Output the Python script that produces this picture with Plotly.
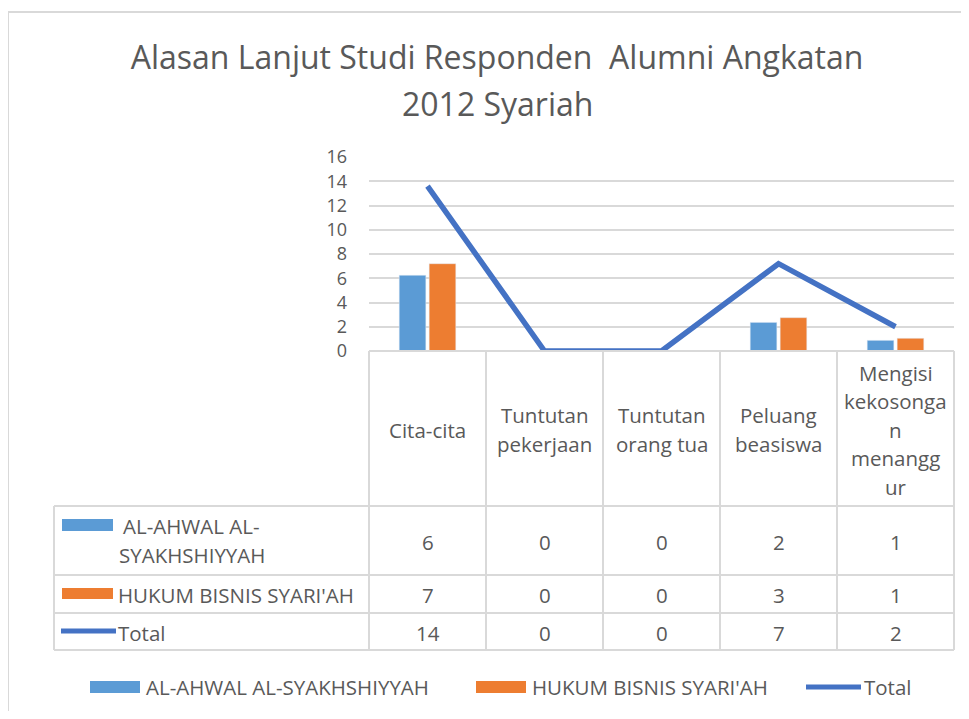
import plotly.graph_objects as go

# ---------------- data ----------------
categories = ["Cita-cita", "Tuntutan pekerjaan", "Tuntutan orang tua", "Peluang beasiswa",
              "Mengisi kekosongan menganggur"]
category_lines = [["Cita-cita"], ["Tuntutan", "pekerjaan"], ["Tuntutan", "orang tua"],
                  ["Peluang", "beasiswa"], ["Mengisi", "kekosonga", "n", "menangg", "ur"]]
series_names = ["AL-AHWAL AL-SYAKHSHIYYAH", "HUKUM BISNIS SYARI'AH", "Total"]
al_ahwal = [6.25, 0, 0, 2.36, 0.88]
hukum_bisnis = [7.2, 0, 0, 2.75, 1.05]
total = [13.6, 0, 0, 7.2, 2.0]
y_ticks = [0, 2, 4, 6, 8, 10, 12, 14, 16]
title_line1 = "Alasan Lanjut Studi Responden  Alumni Angkatan"
title_line2 = "2012 Syariah"

# ---------------- styles / geometry ----------------
BLUE = "#5B9BD5"
ORANGE = "#ED7D31"
LINE = "#4472C4"
TXT = "#595959"
GRID = "#D9D9D9"
FONT = "Open Sans"
OFF = 8                      # page body margin
FW, FH = 953, 703
L, R_EDGE, TOP, BOTTOM = 369, 954, 157, 351   # positions in window pixels
W = R_EDGE - L
H = BOTTOM - TOP


def px_x(px):
    return (px - L) / W


def px_y(py):
    return (BOTTOM - py) / H


fig = go.Figure()
fig.add_trace(go.Bar(x=categories, y=al_ahwal, name=series_names[0], marker_color=BLUE,
                     showlegend=False))
fig.add_trace(go.Bar(x=categories, y=hukum_bisnis, name=series_names[1], marker_color=ORANGE,
                     showlegend=False))
fig.add_trace(go.Scatter(x=categories, y=total, name=series_names[2], mode="lines",
                         line=dict(color=LINE, width=5.5), showlegend=False, cliponaxis=False))

shapes = []
annotations = []

# chart outer border
shapes.append(dict(type="rect", xref="paper", yref="paper", x0=px_x(8), x1=px_x(1000),
                   y0=px_y(760), y1=px_y(12), line=dict(color="#D9D9D9", width=2),
                   fillcolor="rgba(0,0,0,0)", layer="below"))

# table geometry
header_bottom = 506
row_bounds = [506, 575, 613, 650]
table_left = 54
line_style = dict(color=GRID, width=2)

shapes.append(dict(type="line", xref="paper", yref="paper", x0=0, x1=1,
                   y0=px_y(BOTTOM), y1=px_y(BOTTOM), line=line_style))
for yb in row_bounds:
    shapes.append(dict(type="line", xref="paper", yref="paper", x0=px_x(table_left), x1=1,
                       y0=px_y(yb), y1=px_y(yb), line=line_style))
n = len(categories)
for i in range(n + 1):
    shapes.append(dict(type="line", xref="paper", yref="paper", x0=i / n, x1=i / n,
                       y0=px_y(BOTTOM), y1=px_y(row_bounds[-1]), line=line_style))
shapes.append(dict(type="line", xref="paper", yref="paper", x0=px_x(table_left), x1=px_x(table_left),
                   y0=px_y(row_bounds[0]), y1=px_y(row_bounds[-1]), line=line_style))

FS = 20.5
LS = 28.5

header_center = (BOTTOM + header_bottom) / 2 + 1
for i, lines in enumerate(category_lines):
    k = len(lines)
    for j, t in enumerate(lines):
        yc = header_center + (j - (k - 1) / 2) * LS
        annotations.append(dict(x=categories[i], xref="x", y=px_y(yc), yref="paper", text=t,
                                showarrow=False, xanchor="center", yanchor="middle",
                                font=dict(family=FONT, size=FS, color=TXT)))

values = [al_ahwal, hukum_bisnis, total]
row_centers = [(row_bounds[r] + row_bounds[r + 1]) / 2 + 1 for r in range(3)]
for r, vals in enumerate(values):
    for i, v in enumerate(vals):
        annotations.append(dict(x=categories[i], xref="x", y=px_y(row_centers[r]), yref="paper",
                                text=f"{v:.0f}", showarrow=False, xanchor="center", yanchor="middle",
                                font=dict(family=FONT, size=FS, color=TXT)))

# row header legend keys & labels
shapes.append(dict(type="rect", xref="paper", yref="paper", x0=px_x(62), x1=px_x(113),
                   y0=px_y(531), y1=px_y(519), fillcolor=BLUE, line=dict(width=0)))
annotations.append(dict(x=px_x(121), xref="paper", y=px_y(526), yref="paper", text="AL-AHWAL AL-",
                        showarrow=False, xanchor="left", yanchor="middle",
                        font=dict(family=FONT, size=FS, color=TXT)))
annotations.append(dict(x=px_x(117), xref="paper", y=px_y(555), yref="paper", text="SYAKHSHIYYAH",
                        showarrow=False, xanchor="left", yanchor="middle",
                        font=dict(family=FONT, size=FS, color=TXT)))
shapes.append(dict(type="rect", xref="paper", yref="paper", x0=px_x(62), x1=px_x(113),
                   y0=px_y(599), y1=px_y(588), fillcolor=ORANGE, line=dict(width=0)))
annotations.append(dict(x=px_x(116), xref="paper", y=px_y(row_centers[1]), yref="paper",
                        text=series_names[1], showarrow=False, xanchor="left", yanchor="middle",
                        font=dict(family=FONT, size=FS, color=TXT)))
shapes.append(dict(type="line", xref="paper", yref="paper", x0=px_x(61), x1=px_x(116),
                   y0=px_y(631), y1=px_y(631), line=dict(color=LINE, width=5)))
annotations.append(dict(x=px_x(116), xref="paper", y=px_y(row_centers[2]), yref="paper",
                        text=series_names[2], showarrow=False, xanchor="left", yanchor="middle",
                        font=dict(family=FONT, size=FS, color=TXT)))

# bottom legend
LY = 687
shapes.append(dict(type="rect", xref="paper", yref="paper", x0=px_x(90), x1=px_x(140),
                   y0=px_y(LY + 6), y1=px_y(LY - 6), fillcolor=BLUE, line=dict(width=0)))
annotations.append(dict(x=px_x(144), xref="paper", y=px_y(LY), yref="paper", text=series_names[0],
                        showarrow=False, xanchor="left", yanchor="middle",
                        font=dict(family=FONT, size=FS, color=TXT)))
shapes.append(dict(type="rect", xref="paper", yref="paper", x0=px_x(476), x1=px_x(526),
                   y0=px_y(LY + 6), y1=px_y(LY - 6), fillcolor=ORANGE, line=dict(width=0)))
annotations.append(dict(x=px_x(530), xref="paper", y=px_y(LY), yref="paper", text=series_names[1],
                        showarrow=False, xanchor="left", yanchor="middle",
                        font=dict(family=FONT, size=FS, color=TXT)))
shapes.append(dict(type="line", xref="paper", yref="paper", x0=px_x(806), x1=px_x(861),
                   y0=px_y(LY), y1=px_y(LY), line=dict(color=LINE, width=5)))
annotations.append(dict(x=px_x(862), xref="paper", y=px_y(LY), yref="paper", text=series_names[2],
                        showarrow=False, xanchor="left", yanchor="middle",
                        font=dict(family=FONT, size=FS, color=TXT)))

# title second line
TS = 32
annotations.append(dict(x=px_x(497), xref="paper", y=px_y(103), yref="paper", text=title_line2,
                        showarrow=False, xanchor="center", yanchor="middle",
                        font=dict(family=FONT, size=TS, color=TXT)))

fig.update_layout(
    width=FW, height=FH,
    margin=dict(l=L - OFF, r=FW - (R_EDGE - OFF), t=TOP - OFF, b=FH - (BOTTOM - OFF), pad=0),
    paper_bgcolor="white", plot_bgcolor="white",
    title=dict(text=title_line1, x=(497 - OFF) / FW, xanchor="center", xref="container",
               y=1 - (58 - OFF) / FH, yanchor="middle", font=dict(family=FONT, size=TS, color=TXT)),
    barmode="group", bargap=0.488, bargroupgap=0.11,
    showlegend=False,
    font=dict(family=FONT, color=TXT),
    xaxis=dict(range=[-0.5, 4.5], showticklabels=False, showgrid=False, zeroline=False,
               showline=False, ticks=""),
    yaxis=dict(range=[0, 16], tickvals=y_ticks, showgrid=True, gridcolor=GRID, gridwidth=2,
               zeroline=False, showline=False, ticks="", ticklabelstandoff=21,
               tickfont=dict(family=FONT, size=18, color=TXT)),
    shapes=shapes, annotations=annotations,
)

fig.write_html("out.html")
